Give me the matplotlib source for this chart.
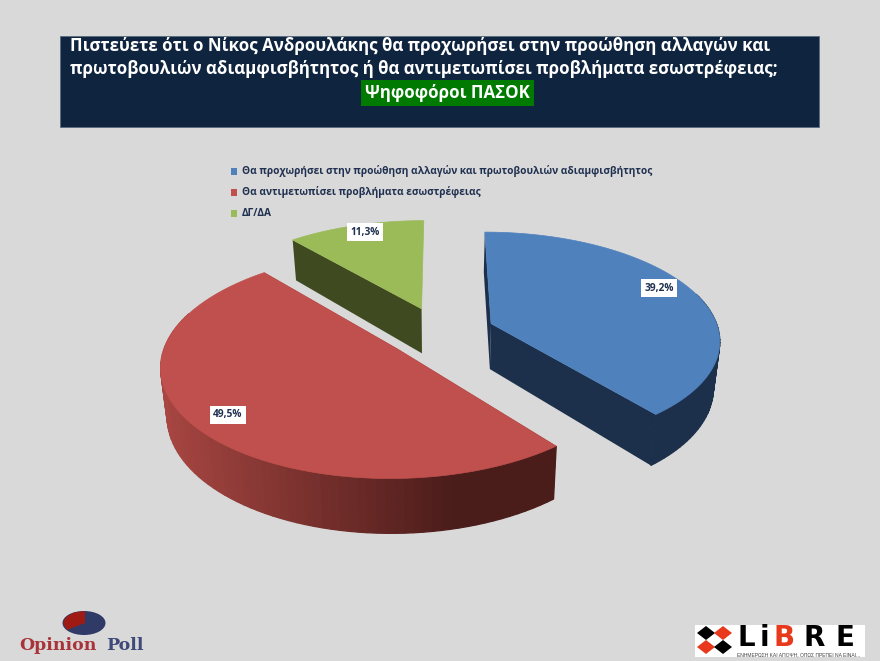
import numpy as np
import matplotlib
matplotlib.use("Agg")
import matplotlib.pyplot as plt
from matplotlib.patches import Polygon, Rectangle, Ellipse

# values of the poll
categories = ["Θα προχωρήσει στην προώθηση αλλαγών και πρωτοβουλιών αδιαμφισβήτητος",
              "Θα αντιμετωπίσει προβλήματα εσωστρέφειας",
              "ΔΓ/ΔΑ"]
values = [39.2, 49.5, 11.3]
value_labels = ["39,2%", "49,5%", "11,3%"]
top_colors = ["#4F81BD", "#C0504D", "#9BBB59"]
title_lines = ["Πιστεύετε ότι ο Νίκος Ανδρουλάκης θα προχωρήσει στην προώθηση αλλαγών και",
               "πρωτοβουλιών αδιαμφισβήτητος ή θα αντιμετωπίσει προβλήματα εσωστρέφειας;"]
subtitle = "Ψηφοφόροι ΠΑΣΟΚ"

plt.rcParams['font.family'] = ['Open Sans', 'DejaVu Sans']
text_dark = "#1F3050"

# perspective settings of the 3d pie
cx, cy = 440, 332
rx, ry = 228, 106.5
persp = 0.14
depth = 46
explode = 0.24

def project(u, v, drop=0.0):
    w = 1 + persp * v
    return cx + rx * u / w * (1 - 0.023 * drop), cy - ry * v / w + drop * depth / w

fig = plt.figure(figsize=(8.8, 6.61), dpi=100, facecolor="#D9D9D9")
ax = fig.add_axes([0, 0, 1, 1])
ax.set_xlim(0, 880)
ax.set_ylim(661, 0)
ax.axis("off")

# header
ax.add_patch(Rectangle((60, 36), 759, 91, fc="#0F243E", ec="#5A6B80", lw=0.6))
ax.text(70, 46, title_lines[0], color="white", fontsize=12.2, fontweight="bold", va="center", ha="left")
ax.text(70, 69.5, title_lines[1], color="white", fontsize=12.2, fontweight="bold", va="center", ha="left")
ax.add_patch(Rectangle((361, 80), 173, 26, fc="#007A00", ec="none"))
ax.text(447.5, 92.5, subtitle, color="white", fontsize=12.2, fontweight="bold", va="center", ha="center")

# legend
for yy, col, name in zip([171, 192, 213], top_colors, categories):
    ax.add_patch(Rectangle((231, yy - 3.5), 6, 7, fc=col, ec="none"))
    ax.text(242, yy, name, color=text_dark, fontsize=7.3, fontweight="bold", va="center", ha="left")

def side_color(i, x):
    if i == 0:
        return "#1C2F4B"
    if i == 2:
        return "#3F4A20"
    # red rim gets darker towards the right
    t = np.clip((x - 160) / 300, 0, 1)
    c0 = np.array(matplotlib.colors.to_rgb("#A84642"))
    c1 = np.array(matplotlib.colors.to_rgb("#4A1C1A"))
    return c0 + (c1 - c0) * t

def draw_slice(i, start, end):
    mid = np.radians((start + end) / 2)
    ou, ov = explode * np.sin(mid), explode * np.cos(mid)
    th = np.radians(np.linspace(start, end, 90))
    us = ou + np.sin(th)
    vs = ov + np.cos(th)
    # cut faces, the right one of the green slice does not show
    cuts = [(us[0], vs[0])] if i == 2 else [(us[0], vs[0]), (us[-1], vs[-1])]
    for uu, vv in cuts:
        quad = [project(ou, ov), project(uu, vv), project(uu, vv, 1), project(ou, ov, 1)]
        ax.add_patch(Polygon(quad, fc=side_color(i, 555), ec="none", zorder=2))
    # rim strips, only the front part is seen
    for k in range(len(th) - 1):
        if np.cos(th[k]) > 0.3:
            continue
        quad = [project(us[k], vs[k]), project(us[k + 1], vs[k + 1]),
                project(us[k + 1], vs[k + 1], 1), project(us[k], vs[k], 1)]
        col = side_color(i, quad[0][0])
        ax.add_patch(Polygon(quad, fc=col, ec=col, lw=0.9, zorder=2))
    # top
    pts = [project(ou, ov)] + [project(a, b) for a, b in zip(us, vs)]
    ax.add_patch(Polygon(pts, fc=top_colors[i], ec=top_colors[i], lw=0.5, zorder=3))

angles = np.concatenate([[0], np.cumsum(values)]) / sum(values) * 360
for i in [2, 1, 0]:
    draw_slice(i, angles[i], angles[i + 1])

# value labels
for (lx, ly), lab in zip([(659, 288), (228, 415), (365, 232)], value_labels):
    ax.text(lx, ly, lab, color=text_dark, fontsize=7.3, fontweight="bold", ha="center", va="center", zorder=5,
            bbox=dict(fc="white", ec="none", boxstyle="square,pad=0.3"))

# OpinionPoll logo
ax.add_patch(Ellipse((84, 623), 43, 24, fc="#2F3B66", ec="none", zorder=2))
ax.add_patch(Polygon([(85, 623), (85, 611), (74, 612.5), (66, 617), (63, 623), (67, 630)], fc="#A01A14", ec="none", zorder=3))
ax.text(19, 645, "Opinion", color="#A8343A", fontsize=12.5, family="DejaVu Serif", fontweight="bold", ha="left", va="center")
ax.text(106, 645, "Poll", color="#3F4A78", fontsize=12.5, family="DejaVu Serif", fontweight="bold", ha="left", va="center")

# LiBRE logo
ax.add_patch(Rectangle((695, 625), 170, 32, fc="white", ec="none"))
for (dx, dy), col in zip([(706, 633), (723, 633), (706, 647), (723, 647)], ["black", "#E8391D", "#E8391D", "black"]):
    ax.add_patch(Polygon([(dx - 9, dy), (dx, dy - 7), (dx + 9, dy), (dx, dy + 7)], fc=col, ec="none"))
for lx, letter, col in zip([738, 760, 773, 803, 836], "LiBRE", ["black", "black", "#E8391D", "black", "black"]):
    ax.text(lx, 646, letter, color=col, fontsize=20, fontweight="bold", family="DejaVu Sans", ha="left", va="baseline")
ax.text(737, 654.7, "ΕΝΗΜΕΡΩΣΗ ΚΑΙ ΑΠΟΨΗ, ΟΠΩΣ ΠΡΕΠΕΙ ΝΑ ΕΙΝΑΙ...", color="#444444", fontsize=3.6, family="Liberation Sans", ha="left", va="center")

fig.savefig("out.png", dpi=100, facecolor=fig.get_facecolor())
